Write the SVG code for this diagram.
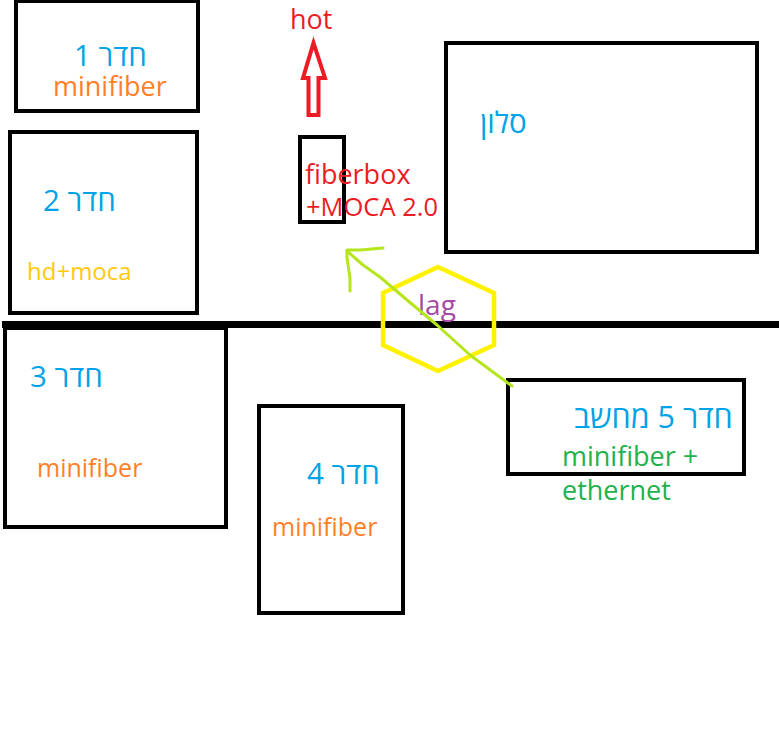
<svg xmlns="http://www.w3.org/2000/svg" width="779" height="750" viewBox="0 0 779 750">
<style>
.box{fill:none;stroke:#000;stroke-width:4}
text{font-family:"Open Sans","Liberation Sans",sans-serif}
.blue{fill:#00a2e8;font-size:29.5px}
.orange{fill:#ff7f27}
.red{fill:#ed1c24}
.green{fill:#22b14c;font-size:27px}
.wire{fill:none;stroke:#b5e61d;stroke-width:3;stroke-linecap:round;stroke-linejoin:round}
</style>
<rect width="779" height="750" fill="#fff"/>
<g id="connectors">
<path d="M2 324.5H779" fill="none" stroke="#000" stroke-width="7"/>
<path d="M308.500 115V78H303L313.500 43L325 78H318.500V115Z" fill="none" stroke="#ed1c24" stroke-width="4"/>
</g>
<g id="room1"><rect class="box" x="16" y="1" width="182" height="110"/><text class="blue" x="74" y="66">1 חדר</text><text class="orange" x="53" y="96" font-size="27">minifiber</text></g>
<g id="room2"><rect class="box" x="10" y="132" width="187" height="181"/><text class="blue" x="43" y="211">2 חדר</text><text x="27" y="280" font-size="24" fill="#ffc90e">hd+moca</text></g>
<g id="room3"><rect class="box" x="5" y="328" width="221" height="199"/><text class="blue" x="30" y="387">3 חדר</text><text class="orange" x="37" y="477" font-size="25">minifiber</text></g>
<g id="room4"><rect class="box" x="259" y="406" width="144" height="207"/><text class="blue" x="307" y="484">4 חדר</text><text class="orange" x="272" y="536" font-size="25">minifiber</text></g>
<g id="room5"><rect class="box" x="508" y="380" width="236" height="94"/><text class="blue" x="574" y="428" style="font-size:30.500px">חדר 5 מחשב</text><text class="green" x="562" y="466">minifiber +</text><text class="green" x="562" y="500">ethernet</text></g>
<g id="salon"><rect class="box" x="446" y="43" width="311" height="209"/><text class="blue" x="480" y="133">סלון</text></g>
<g id="fiberbox"><rect class="box" x="300" y="137" width="44" height="85"/><text class="red" x="305" y="184" font-size="27">fiberbox</text><text class="red" x="306" y="216" font-size="25.500">+MOCA 2.0</text></g>
<g id="hot"><text class="red" x="290" y="29" font-size="27">hot</text></g>
<g id="lag"><path d="M438 267L494 293V345L438 371L383 345V293Z" fill="none" stroke="#fff200" stroke-width="4.500"/><text x="418" y="315" font-size="28" fill="#a349a4">lag</text></g>
<g id="connectors-top">
<path class="wire" d="M512 386L470 355L437 325L407 300L380 277L363 265L347 251"/>
<path class="wire" d="M350 291L350 278L347 258L347 250L360 250L383 248"/>
</g>
</svg>
